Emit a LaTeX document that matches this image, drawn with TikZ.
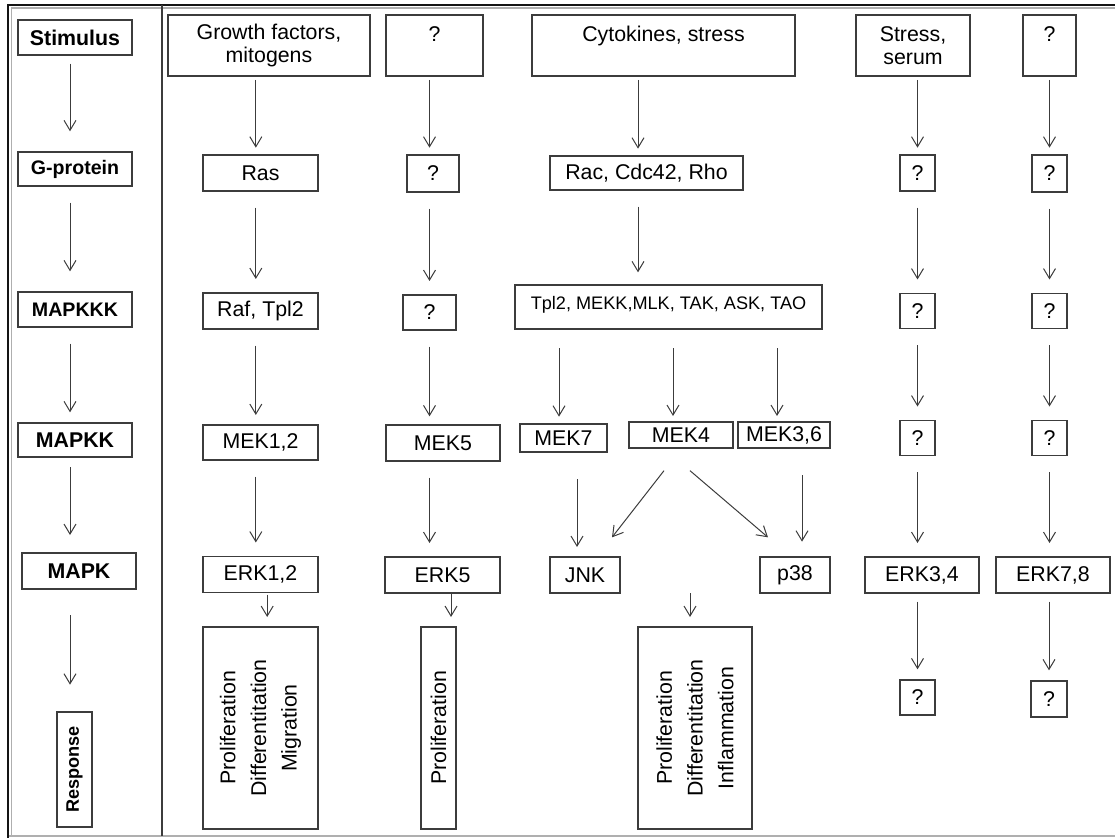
\documentclass[tikz,border=0pt]{standalone}
\usepackage{fontspec}
\setmainfont{Liberation Sans}
\usetikzlibrary{arrows.meta,calc}

\begin{document}
\begin{tikzpicture}[
		x=0.75pt,
		y=-0.75pt,
		BoxSize/.style 2 args={minimum width=#1*0.75pt, minimum height=#2*0.75pt},
		Box/.style={draw=BoxLine, line width=1pt, inner sep=0pt, align=center,
			font=\fontsize{16}{17}\selectfont},
		LeftBox/.style={Box, font=\bfseries\fontsize{16}{17}\selectfont},
		OutBox/.style={Box, rotate=90, font=\fontsize{16}{23}\selectfont},
		Flow/.style={draw=BoxLine, line width=0.75pt,
			-{Straight Barb[length=7.5pt,width=9pt]},
			shorten <=12pt, shorten >=10pt},
		FlowTop/.style={Flow, shorten <=2.5pt, shorten >=5pt},
		FlowOut/.style={Flow, shorten <=1pt, shorten >=7pt}
	]
	% ===== COLOURS =====
	\definecolor{BoxLine}{RGB}{60,60,60}
	\definecolor{FrameLine}{RGB}{20,20,20}
	\definecolor{EdgeGray}{RGB}{175,175,175}

	\useasboundingbox (0,0) rectangle (1115,838);

	% ===== FRAME =====
	\draw[EdgeGray, line width=1pt] (11.5,836) -- (11.5,8) -- (1115,8);
	\draw[EdgeGray, line width=1.5pt] (8,836) -- (1115,836);
	\draw[FrameLine, line width=2pt] (8,838) -- (8,5) -- (1115,5);
	\draw[BoxLine, line width=1pt] (162,5) -- (162,836);

	% ===== LEVELS =====
	\node[LeftBox, BoxSize={114}{35}] (Stim) at (75,37.5) {Stimulus};
	\node[LeftBox, BoxSize={114}{34}, font=\bfseries\fontsize{14.7}{17}\selectfont] (GProt) at (75,169) {G-protein};
	\node[LeftBox, BoxSize={114}{35}, font=\bfseries\fontsize{14.7}{17}\selectfont] (KKK) at (75,309.5) {MAPKKK};
	\node[LeftBox, BoxSize={114}{34}] (KK) at (75,440) {MAPKK};
	\node[LeftBox, BoxSize={114}{36}] (K) at (79,571) {MAPK};
	\node[LeftBox, rotate=90, BoxSize={115}{35}, font=\bfseries\fontsize{13.6}{16}\selectfont] (Resp) at (74.5,769.5) {Response};

	\draw[Flow, shorten <=6pt, shorten >=15pt] ([xshift=-3.75pt]Stim.south) -- ([xshift=-3.75pt]GProt.north);
	\draw[Flow, shorten >=15pt] ([xshift=-3.75pt]GProt.south) -- ([xshift=-3.75pt]KKK.north);
	\draw[Flow, shorten >=7.5pt] ([xshift=-3.75pt]KKK.south) -- ([xshift=-3.75pt]KK.north);
	\draw[Flow, shorten <=7pt, shorten >=13pt] ([xshift=-3.75pt]KK.south) -- ([xshift=-3.75pt]KK.south |- K.north);
	\draw[Flow, shorten <=19pt, shorten >=20pt] ([xshift=-3.75pt]KK.south |- K.south) -- ([xshift=-3.75pt]KK.south |- Resp.east);

	% ===== ERK1,2 =====
	\node[Box, BoxSize={202}{61}] (GF) at (269,45.5) {Growth factors,\\mitogens};
	\node[Box, BoxSize={115}{36}] (Ras) at (260.5,173) {Ras};
	\node[Box, BoxSize={115}{36}] (Raf) at (260.5,311) {Raf, Tpl2};
	\node[Box, BoxSize={115}{35}] (MEKa) at (260.5,442.5) {MEK1,2};
	\node[Box, BoxSize={115}{36}] (ERKa) at (260.5,574.5) {ERK1,2};
	\node[OutBox, BoxSize={202}{115}] (OutA) at (260.5,728) {Proliferation\\Differentitation\\Migration};

	\draw[FlowTop] ([xshift=-3.5pt]GF.south -| Ras.north) -- ([xshift=-3.5pt]Ras.north);
	\draw[Flow] ([xshift=-3.5pt]Ras.south) -- ([xshift=-3.5pt]Raf.north);
	\draw[Flow, shorten >=7pt] ([xshift=-3.5pt]Raf.south) -- ([xshift=-3.5pt]MEKa.north);
	\draw[Flow] ([xshift=-3.5pt]MEKa.south) -- ([xshift=-3.5pt]ERKa.north);
	\draw[FlowOut] ([xshift=5pt]ERKa.south) -- ([xshift=5pt]OutA.east);

	% ===== ERK5 =====
	\node[Box, BoxSize={97}{61}] (Qb) at (434.5,45.5) {?\\\mbox{}};
	\node[Box, BoxSize={52}{37}] (QbG) at (433,173.5) {?};
	\node[Box, BoxSize={53}{35}] (QbK) at (429.5,312.5) {?};
	\node[Box, BoxSize={114}{36}] (MEKb) at (443,443) {MEK5};
	\node[Box, BoxSize={115}{36}] (ERKb) at (442.5,575) {ERK5};
	\node[OutBox, BoxSize={202}{35}] (OutB) at (438.5,728) {Proliferation};

	\draw[FlowTop] (Qb.south -| QbK.north) -- (QbK.north |- QbG.north);
	\draw[Flow] (QbK.north |- QbG.south) -- (QbK.north);
	\draw[Flow, shorten >=6pt] (QbK.south) -- (QbK.south |- MEKb.north);
	\draw[Flow] (QbK.south |- MEKb.south) -- (QbK.south |- ERKb.north);
	\draw[FlowOut, shorten <=0pt] ([xshift=6.4pt]ERKb.south) -- ([xshift=6.4pt]ERKb.south |- OutB.east);

	% ===== JNK / p38 =====
	\node[Box, BoxSize={263}{61}] (Cyt) at (663.5,45.5) {Cytokines, stress\\\mbox{}};
	\node[Box, BoxSize={193}{34}] (Rac) at (646.5,173) {Rac, Cdc42, Rho};
	\node[Box, BoxSize={307}{44}, font=\fontsize{13.6}{16}\selectfont] (Tpl) at (668.5,307) {\raisebox{6.5pt}{Tpl2, MEKK,MLK, TAK, ASK, TAO}};
	\node[Box, BoxSize={87}{28}] (MEKc) at (563.5,438) {MEK7};
	\node[Box, BoxSize={104}{26}] (MEKd) at (681,435) {MEK4};
	\node[Box, BoxSize={92}{26}] (MEKe) at (784,435) {MEK3,6};
	\node[Box, BoxSize={70}{36}] (JNK) at (585,575) {JNK};
	\node[Box, BoxSize={70}{36}] (P38) at (795,575) {p38};
	\node[OutBox, BoxSize={202}{114}] (OutC) at (695,728) {Proliferation\\Differentitation\\Inflammation};
	\coordinate (OutCSrc) at (690,593);

	\draw[FlowTop] ($(Cyt.south -| Rac.north)+(-8.5,0)$) -- ($(Rac.north)+(-8.5,0)$);
	\draw[Flow, shorten >=9pt] ($(Rac.south)+(-8.5,0)$) -- ($(Rac.south |- Tpl.north)+(-8.5,0)$);
	\draw[Flow, shorten <=14pt, shorten >=5pt] ($(Tpl.south -| MEKc.north)+(-4.5,0)$) -- ($(MEKc.north)+(-4.5,0)$);
	\draw[Flow, shorten <=14pt, shorten >=4pt] ($(Tpl.south -| MEKd.north)+(-8,0)$) -- ($(MEKd.north)+(-8,0)$);
	\draw[Flow, shorten <=14pt, shorten >=4pt] ($(Tpl.south -| MEKe.north)+(-7,0)$) -- ($(MEKe.north)+(-7,0)$);
	\draw[Flow, shorten <=20pt, shorten >=7pt] ($(MEKc.south)+(13.5,0)$) -- ($(JNK.north)+(-8,0)$);
	\draw[Flow, shorten <=0pt, shorten >=0pt] ($(MEKd.south)+(-17,22)$) -- ($(JNK.north)+(27,-19)$);
	\draw[Flow, shorten <=0pt, shorten >=0pt] ($(MEKd.south)+(9,22)$) -- ($(P38.north)+(-27,-19)$);
	\draw[Flow, shorten <=20pt, shorten >=11pt] ($(MEKe.south)+(18,0)$) -- ($(P38.north)+(7,0)$);
	\draw[FlowOut, shorten <=0pt] (OutCSrc) -- (OutCSrc |- OutC.east);

	% ===== ERK3,4 =====
	\node[Box, BoxSize={114}{61}] (SS) at (913,45.5) {Stress,\\serum};
	\node[Box, BoxSize={35}{36}] (QdG) at (917.5,173) {?};
	\node[Box, BoxSize={35}{35}] (QdKKK) at (917.5,311) {?};
	\node[Box, BoxSize={35}{35}] (QdKK) at (917.5,438) {?};
	\node[Box, BoxSize={114}{36}] (ERKd) at (922,575) {ERK3,4};
	\node[Box, BoxSize={35}{35}] (QdOut) at (917.5,697.5) {?};

	\draw[FlowTop] (SS.south -| QdG.north) -- (QdG.north);
	\draw[Flow] (QdG.south) -- (QdKKK.north);
	\draw[Flow] (QdKKK.south) -- (QdKK.north);
	\draw[Flow] (QdKK.south) -- (QdKK.south |- ERKd.north);
	\draw[Flow, shorten <=6pt, shorten >=7.5pt] (QdOut.north |- ERKd.south) -- (QdOut.north);

	% ===== ERK7,8 =====
	\node[Box, BoxSize={53}{61}] (Qe) at (1049.5,45.5) {?\\\mbox{}};
	\node[Box, BoxSize={35}{37}] (QeG) at (1049.5,173.5) {?};
	\node[Box, BoxSize={35}{35}] (QeKKK) at (1049.5,311) {?};
	\node[Box, BoxSize={35}{35}] (QeKK) at (1049.5,438) {?};
	\node[Box, BoxSize={114}{36}] (ERKe) at (1053,575) {ERK7,8};
	\node[Box, BoxSize={36}{36}] (QeOut) at (1049,699) {?};

	\draw[FlowTop] (Qe.south) -- (QeG.north);
	\draw[Flow] (QeG.south) -- (QeKKK.north);
	\draw[Flow] (QeKKK.south) -- (QeKK.north);
	\draw[Flow] (QeKK.south) -- (QeKK.south |- ERKe.north);
	\draw[Flow, shorten <=6pt, shorten >=7.5pt] (QeOut.north |- ERKe.south) -- (QeOut.north);

\end{tikzpicture}
\end{document}
